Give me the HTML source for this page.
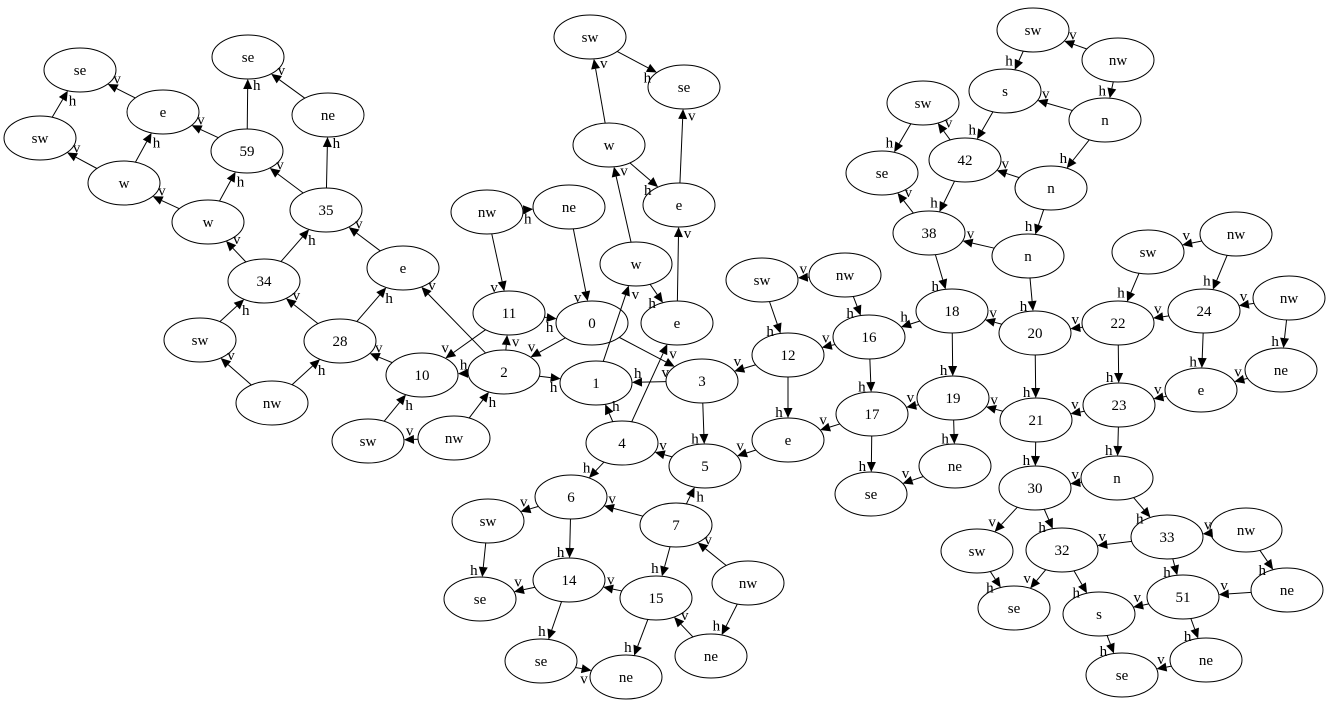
<!DOCTYPE html>
<html><head><meta charset="utf-8"><style>
html,body{margin:0;padding:0;background:#fff;width:1329px;height:706px;overflow:hidden}
svg text{font-family:"Liberation Serif",serif;font-size:15px}
</style></head><body>
<svg id="g" width="1329" height="706" xmlns="http://www.w3.org/2000/svg"></svg>
<script>
const N={
se_a:[80,70,'se'],e_a:[163,112,'e'],sw_a:[40,138,'sw'],se_b:[248,57,'se'],ne_a:[328,115,'ne'],
n59:[247,151,'59'],w_a:[124,183,'w'],n35:[326,210,'35'],w_b:[208,222,'w'],n34:[264,281,'34'],
e_b:[403,268,'e'],sw_b:[200,340,'sw'],n28:[340,341,'28'],nw_a:[272,403,'nw'],n10:[422,375,'10'],
sw_c:[368,441,'sw'],nw_b:[454,438,'nw'],n2:[504,372,'2'],n11:[509,313,'11'],nw_c:[487,212,'nw'],
ne_b:[569,207,'ne'],n0:[592,323,'0'],n1:[596,383,'1'],n3:[702,381,'3'],n4:[622,443,'4'],
n5:[705,466,'5'],n6:[571,497,'6'],n7:[676,525,'7'],sw_d:[488,521,'sw'],se_c:[480,599,'se'],
n14:[569,580,'14'],n15:[656,598,'15'],nw_d:[748,583,'nw'],se_d:[541,661,'se'],ne_c:[626,677,'ne'],
ne_d:[711,656,'ne'],sw_e:[590,37,'sw'],se_e:[684,87,'se'],w_c:[609,145,'w'],e_c:[679,205,'e'],
w_d:[636,264,'w'],e_d:[677,323,'e'],sw_f:[762,280,'sw'],nw_e:[845,275,'nw'],n12:[788,355,'12'],
n16:[869,337,'16'],e_e:[788,440,'e'],n17:[872,414,'17'],se_f:[871,494,'se'],ne_e:[955,466,'ne'],
n19:[953,398,'19'],n18:[952,311,'18'],n38:[929,233,'38'],se_g:[882,173,'se'],sw_g:[923,103,'sw'],
n42:[965,160,'42'],s_a:[1005,91,'s'],sw_h:[1033,30,'sw'],nw_f:[1118,60,'nw'],n_a:[1105,120,'n'],
n_b:[1051,188,'n'],n_c:[1028,256,'n'],n20:[1035,333,'20'],n21:[1036,420,'21'],n22:[1118,323,'22'],
sw_i:[1148,252,'sw'],nw_g:[1236,234,'nw'],n24:[1204,311,'24'],nw_h:[1289,298,'nw'],ne_f:[1281,370,'ne'],
e_f:[1201,390,'e'],n23:[1119,405,'23'],n_d:[1117,478,'n'],n30:[1035,488,'30'],sw_j:[977,551,'sw'],
n32:[1062,550,'32'],se_h:[1014,608,'se'],n33:[1167,537,'33'],nw_i:[1246,530,'nw'],ne_g:[1287,590,'ne'],
n51:[1183,597,'51'],s_b:[1099,614,'s'],se_i:[1122,675,'se'],ne_h:[1206,660,'ne']};
const E=`e_a se_a v;sw_a se_a h;w_a sw_a v;w_a e_a h;n59 e_a v;n59 se_b h;ne_a se_b v;w_b n59 h;w_b w_a v;
n35 n59 v;n35 ne_a h;n34 w_b v;n34 n35 h;e_b n35 v;n28 n34 v;n28 e_b h;sw_b n34 h;nw_a sw_b v;nw_a n28 h;
n10 n28 v;sw_c n10 h;nw_b sw_c v;n2 n10 h;n2 e_b v;n2 n11 v;n2 n1 h;nw_b n2 h;n11 n10 v;n11 n0 h;nw_c n11 v;
nw_c ne_b h;ne_b n0 v;n0 n2 v;n0 n3 v;n1 w_d v;n3 n1 h;n3 n5 h;n4 n1 h;n4 e_d v;n4 n6 h;n5 n4 v;e_e n5 v;
n7 n5 h;n7 n6 v;n7 n15 h;nw_d n7 v;nw_d ne_d h;n6 sw_d v;n6 n14 h;sw_d se_c h;n14 se_c v;n14 se_d h;
n15 n14 v;n15 ne_c h;ne_d n15 v;se_d ne_c v;w_d w_c v;w_d e_d h;e_d e_c v;w_c sw_e v;w_c e_c h;sw_e se_e h;
e_c se_e v;sw_f n12 h;nw_e sw_f v;nw_e n16 h;n12 n3 v;n12 e_e h;n16 n12 v;n16 n17 h;n18 n16 h;n18 n19 h;
n20 n18 v;n17 e_e v;n17 se_f h;n19 n17 v;n19 ne_e h;ne_e se_f v;n21 n19 v;n38 n18 h;n_c n38 v;n_c n20 h;
n38 se_g v;n42 n38 h;sw_g se_g h;n42 sw_g v;s_a n42 h;n_b n42 v;n_b n_c h;sw_h s_a h;nw_f sw_h v;nw_f n_a h;
n_a s_a v;n_a n_b h;n20 n21 h;n22 n20 v;n22 n23 h;sw_i n22 h;nw_g sw_i v;nw_g n24 h;n24 n22 v;n24 e_f h;
nw_h n24 v;nw_h ne_f h;ne_f e_f v;e_f n23 v;n23 n21 v;n23 n_d h;n21 n30 h;n_d n30 v;n_d n33 h;n30 sw_j v;
n30 n32 h;sw_j se_h h;n32 se_h v;n32 s_b h;n33 n32 v;n33 n51 h;nw_i n33 v;nw_i ne_g h;ne_g n51 v;n51 s_b v;
n51 ne_h h;s_b se_i h;ne_h se_i v`;
const RX=36,RY=22;let s='';
function bd(c,dx,dy){const t=1/Math.sqrt(dx*dx/(RX*RX)+dy*dy/(RY*RY));return [c[0]+dx*t,c[1]+dy*t];}
E.replace(/\n/g,'').split(';').forEach(l=>{const [a,b,lb]=l.trim().split(' ');const A=N[a],B=N[b];
let dx=B[0]-A[0],dy=B[1]-A[1];const L=Math.hypot(dx,dy),ux=dx/L,uy=dy/L;
const p=bd(A,dx,dy),q=bd(B,-dx,-dy);const ex=q[0]-ux*10,ey=q[1]-uy*10;
s+=`<line x1="${p[0]}" y1="${p[1]}" x2="${ex}" y2="${ey}" stroke="#000" stroke-width="1"/>`;
s+=`<polygon points="${q[0]},${q[1]} ${ex-uy*4.5},${ey+ux*4.5} ${ex+uy*4.5},${ey-ux*4.5}" fill="#000"/>`;
const lx=q[0]-ux*6-uy*9,ly=q[1]-uy*6+ux*9;
s+=`<text x="${lx}" y="${ly+5}" text-anchor="middle">${lb}</text>`;});
for(const k in N){const c=N[k];s+=`<ellipse cx="${c[0]}" cy="${c[1]}" rx="${RX}" ry="${RY}" fill="none" stroke="#000"/><text x="${c[0]}" y="${c[1]+5}" text-anchor="middle" font-size="15">${c[2]}</text>`;}
document.getElementById('g').innerHTML=s;
</script>
</body></html>
